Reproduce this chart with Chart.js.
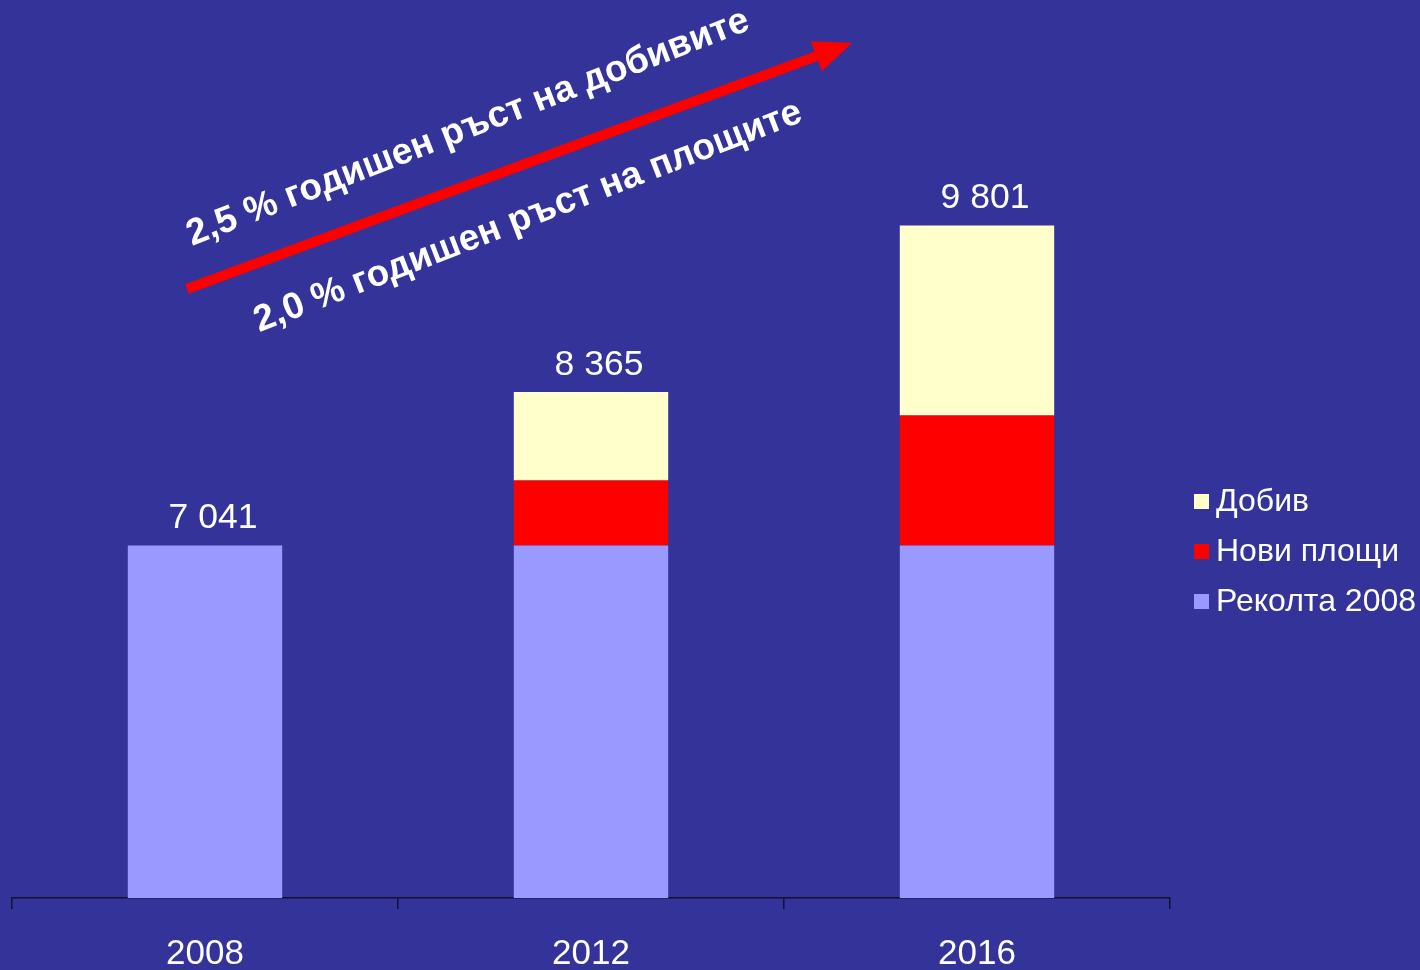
<!DOCTYPE html>
<html>
<head>
<meta charset="utf-8">
<script src="https://cdn.jsdelivr.net/npm/chart.js@4/dist/chart.umd.min.js"></script>
<style>
html,body{margin:0;padding:0;background:#333399;}
#wrap{width:1420px;height:970px;position:relative;}
</style>
</head>
<body>
<div id="wrap"><canvas id="c" width="1420" height="970"></canvas></div>
<script>
const categories = ['2008', '2012', '2016'];
const harvest2008 = [7041, 7041, 7041];
const newAreas = [0, 560, 1121];
const yieldGain = [0, 764, 1639];
const totals = [7041, 8365, 9801];
const seriesNames = ['Реколта 2008', 'Нови площи', 'Добив'];
const annotationTexts = ['2,5 % годишен ръст на добивите', '2,0 % годишен ръст на площите'];

const FONT = '"Liberation Sans", Arial, sans-serif';

const overlay = {
  id: 'overlay',
  afterDatasetsDraw(chart) {
    const ctx = chart.ctx;
    const y = chart.scales.y;
    const x = chart.scales.x;
    ctx.save();
    ctx.fillStyle = '#ffffff';
    ctx.font = '35.5px ' + FONT;
    ctx.textAlign = 'center';
    ctx.textBaseline = 'alphabetic';
    totals.forEach((t, i) => {
      const px = x.getPixelForValue(i);
      const py = y.getPixelForValue(t);
      const s = String(t).replace(/\B(?=(\d{3})+(?!\d))/g, ' ');
      ctx.fillText(s, px + 8, py - 17);
    });
    ctx.restore();
  },
  afterDraw(chart) {
    const ctx = chart.ctx;
    ctx.save();
    ctx.font = '32px ' + FONT;
    ctx.textBaseline = 'middle';
    const ds = chart.data.datasets;
    const order = [2, 1, 0];
    order.forEach((di, k) => {
      const cy = 501 + k * 50;
      ctx.fillStyle = ds[di].backgroundColor;
      ctx.fillRect(1194, cy - 7, 15, 15);
      ctx.fillStyle = '#ffffff';
      ctx.fillText(ds[di].label, 1216, cy + 1);
    });
    ctx.restore();

    ctx.save();
    const x0 = 187, y0 = 289, x1 = 852, y1 = 43;
    const ang = Math.atan2(y1 - y0, x1 - x0);
    const headLen = 38, headW = 16;
    const bx = x1 - headLen * Math.cos(ang), by = y1 - headLen * Math.sin(ang);
    ctx.strokeStyle = '#ff0000';
    ctx.lineWidth = 10;
    ctx.beginPath();
    ctx.moveTo(x0, y0);
    ctx.lineTo(bx + 2 * Math.cos(ang), by + 2 * Math.sin(ang));
    ctx.stroke();
    ctx.fillStyle = '#ff0000';
    ctx.beginPath();
    ctx.moveTo(x1, y1);
    ctx.lineTo(bx - headW * Math.sin(ang), by + headW * Math.cos(ang));
    ctx.lineTo(bx + headW * Math.sin(ang), by - headW * Math.cos(ang));
    ctx.closePath();
    ctx.fill();
    ctx.restore();

    ctx.save();
    ctx.fillStyle = '#ffffff';
    ctx.font = 'bold 37px ' + FONT;
    ctx.textAlign = 'center';
    ctx.textBaseline = 'middle';
    const rot = -21.2 * Math.PI / 180;
    [[annotationTexts[0], 468, 128], [annotationTexts[1], 528, 217]].forEach(([t, cx, cy]) => {
      ctx.save();
      ctx.translate(cx, cy);
      ctx.rotate(rot);
      ctx.fillText(t, 0, 0);
      ctx.restore();
    });
    ctx.restore();
  }
};

new Chart(document.getElementById('c'), {
  type: 'bar',
  data: {
    labels: categories,
    datasets: [
      { label: seriesNames[0], data: harvest2008, backgroundColor: '#9999ff' },
      { label: seriesNames[1], data: newAreas, backgroundColor: '#ff0000' },
      { label: seriesNames[2], data: yieldGain, backgroundColor: '#ffffcc' }
    ]
  },
  options: {
    responsive: false,
    animation: false,
    maintainAspectRatio: false,
    layout: { padding: { left: 12, right: 250, top: 0, bottom: 0 } },
    datasets: { bar: { barPercentage: 0.4, categoryPercentage: 1.0, borderWidth: 0 } },
    plugins: { legend: { display: false }, tooltip: { enabled: false } },
    scales: {
      x: {
        stacked: true,
        grid: { display: true, drawOnChartArea: false, drawTicks: true, tickLength: 11, color: '#111133', lineWidth: 1.5, offset: true },
        border: { display: true, color: '#111133', width: 1.5 },
        ticks: { color: '#ffffff', font: { family: FONT, size: 35 }, padding: 24, maxRotation: 0 },
        afterFit(scale) { scale.height = 72; }
      },
      y: {
        stacked: true,
        display: false,
        min: 4000,
        max: 11745
      }
    }
  },
  plugins: [overlay]
});
</script>
</body>
</html>
